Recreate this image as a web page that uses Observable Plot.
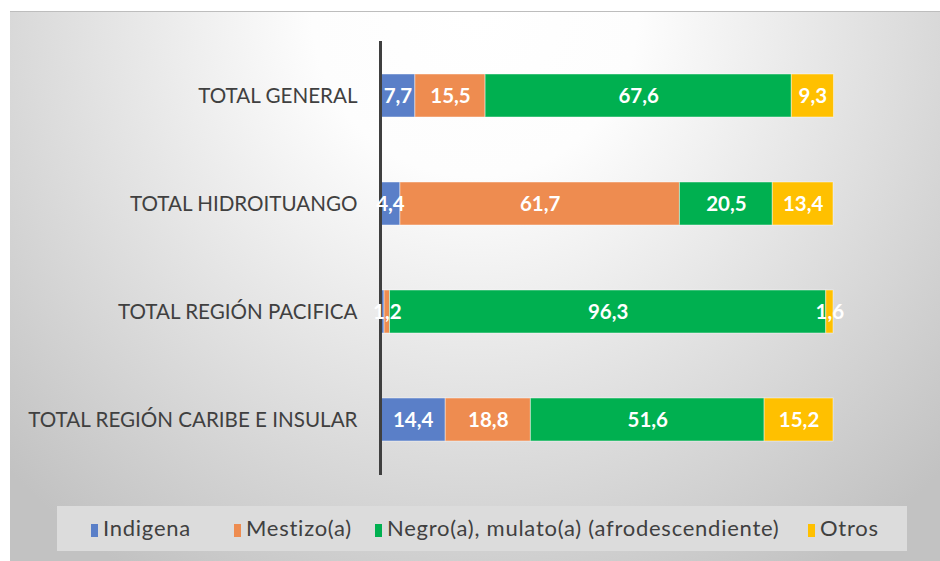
<!DOCTYPE html>
<html><head><meta charset="utf-8">
<script src="https://cdn.jsdelivr.net/npm/d3@7"></script>
<script src="https://cdn.jsdelivr.net/npm/@observablehq/plot@0.6"></script>
<style>
html,body{margin:0;padding:0;background:#fff;}
#box{position:absolute;left:10px;top:11px;width:930px;height:549px;border-top:1px solid #bdbdbd;
background:radial-gradient(ellipse 70% 120% at 50% 0%, #ffffff 0%, #fdfdfd 25%, #c2c2c2 100%);font-family:Lato,sans-serif;}
#chart{position:absolute;left:0;top:0;}
#legend{position:absolute;left:47px;top:494px;width:850px;height:45px;background:#dcdcdc;}
.li{position:absolute;top:10px;font-size:22px;letter-spacing:0.75px;color:#404040;line-height:24px;white-space:nowrap;}
.sw{display:inline-block;width:7px;height:13px;margin-right:5px;vertical-align:-1px;}
</style></head><body>
<div id="box"><div id="chart"></div><div id="legend"></div></div>
<script>
const categories = ["TOTAL GENERAL","TOTAL HIDROITUANGO","TOTAL REGIÓN PACIFICA","TOTAL REGIÓN CARIBE E INSULAR"];
const series = ["Indigena","Mestizo(a)","Negro(a), mulato(a) (afrodescendiente)","Otros"];
const indigena = [7.7, 4.4, 0.9, 14.4];
const mestizo  = [15.5, 61.7, 1.2, 18.8];
const negro    = [67.6, 20.5, 96.3, 51.6];
const otros    = [9.3, 13.4, 1.6, 15.2];
const colors = ["#5a7fc8","#ee8c50","#00b050","#ffc000"];

const cols = [indigena, mestizo, negro, otros];
const data = [];
categories.forEach((c,i)=>series.forEach((s,j)=>data.push({cat:c, serie:s, value:cols[j][i]})));
const fmt = v => d3.format(".1f")(v).replace(".", ",");

const plot = Plot.plot({
  width: 930, height: 490,
  marginLeft: 370, marginRight: 107, marginTop: 29, marginBottom: 27,
  style: {background: "transparent", fontFamily: "Lato, sans-serif"},
  x: {domain: [0, 100], axis: null},
  y: {domain: categories, paddingInner: 0.6, paddingOuter: 0.3, label: null},
  color: {domain: series, range: colors},
  marks: [
    Plot.barX(data, {x: "value", y: "cat", fill: "serie", stroke: "#ffffff", strokeOpacity: 0.45, strokeWidth: 1, order: series}),
    Plot.ruleX([0], {stroke: "#3f3f3f", strokeWidth: 3}),
    Plot.text(data, Plot.stackX({x: "value", y: "cat", z: "serie", order: series,
      text: d => d.value >= 1 ? fmt(d.value) : "", fill: "white", fontWeight: "bold", fontSize: 20.5})),
    Plot.axisY({tickSize: 0, tickPadding: 23, fontSize: 20.6, color: "#404040", label: null})
  ]
});
plot.querySelectorAll("[aria-label='y-axis tick label'] text").forEach(t=>t.setAttribute("fill","#404040"));
document.getElementById("chart").appendChild(plot);

const lefts = [34, 177, 318, 751];
const leg = document.getElementById("legend");
series.forEach((s,i)=>{
  const el = document.createElement("div");
  el.className="li"; el.style.left = lefts[i]+"px";
  el.innerHTML = `<span class="sw" style="background:${colors[i]}"></span>${s}`;
  leg.appendChild(el);
});
</script>
</body></html>
